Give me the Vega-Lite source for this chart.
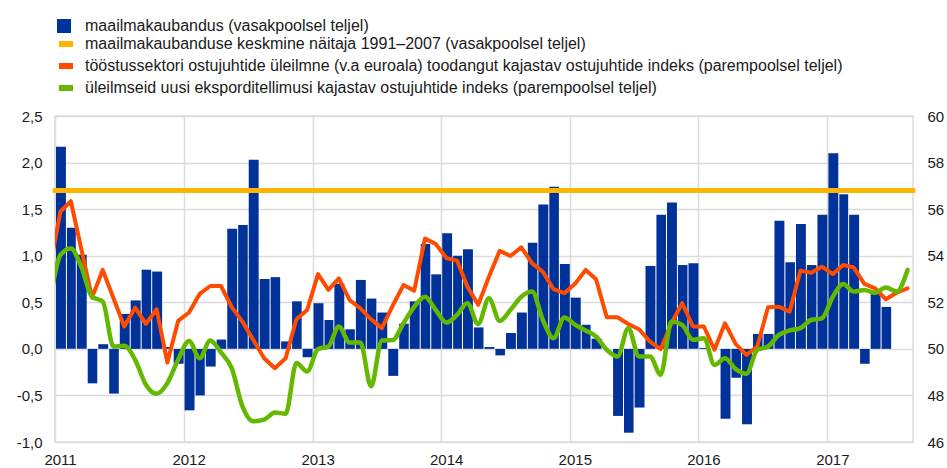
{
  "$schema": "https://vega.github.io/schema/vega-lite/v6.json",
  "width": 858,
  "height": 326,
  "autosize": {"type": "none"},
  "padding": {"left": 55, "top": 116, "right": 34, "bottom": 26},
  "background": "white",
  "config": {
    "font": "Liberation Sans",
    "view": {"stroke": "#dcdcdc", "strokeWidth": 1.5},
    "axis": {"labelFont": "Liberation Sans", "labelFontSize": 15, "labelColor": "#1a1a1a", "gridColor": "#dcdcdc", "gridWidth": 1.5, "ticks": false, "domain": false, "title": null},
    "legend": {"labelFont": "Liberation Sans", "labelFontSize": 16, "labelColor": "#1a1a1a", "labelLimit": 900}
  },
  "data": {
    "values": [
      {"date": "2010-12", "trade": null, "output": 53.4, "orders": 51.9},
      {"date": "2011-01", "trade": 2.17, "output": 55.9, "orders": 54.03},
      {"date": "2011-02", "trade": 1.30, "output": 56.34, "orders": 54.31},
      {"date": "2011-03", "trade": 1.01, "output": 54.3, "orders": 53.53},
      {"date": "2011-04", "trade": -0.37, "output": 52.2, "orders": 52.24},
      {"date": "2011-05", "trade": 0.05, "output": 53.39, "orders": 52.03},
      {"date": "2011-06", "trade": -0.48, "output": 52.17, "orders": 50.1},
      {"date": "2011-07", "trade": 0.375, "output": 50.96, "orders": 50.13},
      {"date": "2011-08", "trade": 0.52, "output": 51.77, "orders": 49.53},
      {"date": "2011-09", "trade": 0.85, "output": 51.07, "orders": 48.46},
      {"date": "2011-10", "trade": 0.83, "output": 51.7, "orders": 48.07},
      {"date": "2011-11", "trade": 0.02, "output": 49.41, "orders": 48.53},
      {"date": "2011-12", "trade": -0.16, "output": 51.2, "orders": 49.53},
      {"date": "2012-01", "trade": -0.66, "output": 51.56, "orders": 50.34},
      {"date": "2012-02", "trade": -0.50, "output": 52.36, "orders": 49.6},
      {"date": "2012-03", "trade": -0.19, "output": 52.7, "orders": 50.36},
      {"date": "2012-04", "trade": 0.10, "output": 52.7, "orders": 49.85},
      {"date": "2012-05", "trade": 1.29, "output": 51.79, "orders": 49.17},
      {"date": "2012-06", "trade": 1.33, "output": 51.17, "orders": 47.53},
      {"date": "2012-07", "trade": 2.03, "output": 50.39, "orders": 46.89},
      {"date": "2012-08", "trade": 0.75, "output": 49.6, "orders": 46.96},
      {"date": "2012-09", "trade": 0.77, "output": 49.17, "orders": 47.27},
      {"date": "2012-10", "trade": 0.08, "output": 49.6, "orders": 47.21},
      {"date": "2012-11", "trade": 0.51, "output": 51.27, "orders": 49.39},
      {"date": "2012-12", "trade": -0.09, "output": 51.67, "orders": 49.03},
      {"date": "2013-01", "trade": 0.49, "output": 53.21, "orders": 49.99},
      {"date": "2013-02", "trade": 0.31, "output": 52.53, "orders": 50.1},
      {"date": "2013-03", "trade": 0.70, "output": 53.03, "orders": 50.96},
      {"date": "2013-04", "trade": 0.21, "output": 52.1, "orders": 50.27},
      {"date": "2013-05", "trade": 0.74, "output": 51.74, "orders": 50.27},
      {"date": "2013-06", "trade": 0.54, "output": 51.27, "orders": 48.39},
      {"date": "2013-07", "trade": 0.39, "output": 50.89, "orders": 50.36},
      {"date": "2013-08", "trade": -0.29, "output": 51.86, "orders": 50.38},
      {"date": "2013-09", "trade": 0.27, "output": 52.74, "orders": 51.1},
      {"date": "2013-10", "trade": 0.51, "output": 52.5, "orders": 51.81},
      {"date": "2013-11", "trade": 1.125, "output": 54.74, "orders": 52.24},
      {"date": "2013-12", "trade": 0.80, "output": 54.5, "orders": 51.67},
      {"date": "2014-01", "trade": 1.24, "output": 53.89, "orders": 51.13},
      {"date": "2014-02", "trade": 1.00, "output": 53.79, "orders": 51.46},
      {"date": "2014-03", "trade": 1.07, "output": 52.67, "orders": 51.96},
      {"date": "2014-04", "trade": 0.23, "output": 51.89, "orders": 51.07},
      {"date": "2014-05", "trade": 0.02, "output": 53.1, "orders": 52.17},
      {"date": "2014-06", "trade": -0.07, "output": 54.21, "orders": 51.2},
      {"date": "2014-07", "trade": 0.17, "output": 53.99, "orders": 51.67},
      {"date": "2014-08", "trade": 0.39, "output": 54.36, "orders": 52.24},
      {"date": "2014-09", "trade": 1.14, "output": 53.67, "orders": 52.46},
      {"date": "2014-10", "trade": 1.55, "output": 53.31, "orders": 51.24},
      {"date": "2014-11", "trade": 1.74, "output": 52.56, "orders": 50.46},
      {"date": "2014-12", "trade": 0.91, "output": 52.39, "orders": 51.35},
      {"date": "2015-01", "trade": 0.55, "output": 52.81, "orders": 51.03},
      {"date": "2015-02", "trade": 0.26, "output": 53.39, "orders": 50.79},
      {"date": "2015-03", "trade": 0.11, "output": 52.99, "orders": 50.53},
      {"date": "2015-04", "trade": 0.0, "output": 51.36, "orders": 49.96},
      {"date": "2015-05", "trade": -0.72, "output": 51.36, "orders": 49.67},
      {"date": "2015-06", "trade": -0.90, "output": 51.07, "orders": 50.89},
      {"date": "2015-07", "trade": -0.63, "output": 50.84, "orders": 49.67},
      {"date": "2015-08", "trade": 0.89, "output": 50.31, "orders": 49.67},
      {"date": "2015-09", "trade": 1.44, "output": 49.99, "orders": 48.89},
      {"date": "2015-10", "trade": 1.57, "output": 51.1, "orders": 51.17},
      {"date": "2015-11", "trade": 0.90, "output": 51.96, "orders": 51.03},
      {"date": "2015-12", "trade": 0.92, "output": 50.96, "orders": 50.39},
      {"date": "2016-01", "trade": 0.01, "output": 50.96, "orders": 50.46},
      {"date": "2016-02", "trade": 0.0, "output": 49.96, "orders": 49.31},
      {"date": "2016-03", "trade": -0.75, "output": 51.1, "orders": 49.6},
      {"date": "2016-04", "trade": -0.31, "output": 50.2, "orders": 49.13},
      {"date": "2016-05", "trade": -0.81, "output": 49.74, "orders": 48.93},
      {"date": "2016-06", "trade": 0.16, "output": 50.1, "orders": 49.96},
      {"date": "2016-07", "trade": 0.16, "output": 51.79, "orders": 50.1},
      {"date": "2016-08", "trade": 1.375, "output": 51.81, "orders": 50.6},
      {"date": "2016-09", "trade": 0.93, "output": 51.6, "orders": 50.79},
      {"date": "2016-10", "trade": 1.34, "output": 53.36, "orders": 50.89},
      {"date": "2016-11", "trade": 0.90, "output": 53.27, "orders": 51.24},
      {"date": "2016-12", "trade": 1.44, "output": 53.53, "orders": 51.31},
      {"date": "2017-01", "trade": 2.10, "output": 53.21, "orders": 52.24},
      {"date": "2017-02", "trade": 1.66, "output": 53.6, "orders": 52.79},
      {"date": "2017-03", "trade": 1.44, "output": 53.5, "orders": 52.46},
      {"date": "2017-04", "trade": -0.16, "output": 52.79, "orders": 52.53},
      {"date": "2017-05", "trade": 0.62, "output": 52.6, "orders": 52.41},
      {"date": "2017-06", "trade": 0.45, "output": 52.13, "orders": 52.64},
      {"date": "2017-07", "trade": null, "output": 52.41, "orders": 52.46},
      {"date": "2017-08", "trade": null, "output": 52.6, "orders": 53.39}
    ],
    "format": {"parse": {"date": "date:'%Y-%m'"}}
  },
  "layer": [
    {
      "layer": [
        {
          "mark": {"type": "bar", "color": "#003299", "clip": true},
          "encoding": {
            "x": {
              "field": "date",
              "timeUnit": "yearmonth",
              "type": "temporal",
              "scale": {"domain": [{"year": 2011, "month": 1, "date": 1}, {"year": 2017, "month": 9, "date": 1}], "nice": false},
              "axis": {"format": "%Y", "formatType": "time", "tickCount": {"interval": "year", "step": 1}, "grid": true, "labelOffset": 5, "labelFlush": false, "labelPadding": 10, "labelOverlap": false}
            },
            "y": {
              "field": "trade", "type": "quantitative",
              "scale": {"domain": [-1, 2.5], "nice": false, "zero": false},
              "axis": {"orient": "left", "values": [-1, -0.5, 0, 0.5, 1, 1.5, 2, 2.5], "grid": true, "labelPadding": 13,
                       "labelExpr": "(datum.value < 0 ? '-' : '') + replace(format(abs(datum.value), '.1f'), '.', ',')"}
            },
            "fill": {
              "datum": "maailmakaubandus (vasakpoolsel teljel)",
              "scale": {"range": ["#003299"]},
              "legend": {"orient": "none", "legendX": 1, "legendY": -98, "title": null, "symbolType": "square", "symbolSize": 196, "symbolStrokeWidth": 0, "labelOffset": 13}
            }
          }
        },
        {
          "mark": {"type": "rule", "strokeWidth": 4, "strokeCap": "round"},
          "encoding": {
            "y": {"datum": 1.7},
            "stroke": {
              "datum": "maailmakaubanduse keskmine näitaja 1991–2007 (vasakpoolsel teljel)",
              "scale": {
                "domain": [
                  "maailmakaubanduse keskmine näitaja 1991–2007 (vasakpoolsel teljel)",
                  "tööstussektori ostujuhtide üleilmne (v.a euroala) toodangut kajastav ostujuhtide indeks (parempoolsel teljel)",
                  "üleilmseid uusi eksporditellimusi kajastav ostujuhtide indeks (parempoolsel teljel)"
                ],
                "range": ["#FFB400", "#FF4B00", "#65B800"]
              },
              "legend": {"orient": "none", "legendX": 1, "legendY": -82, "title": null, "symbolType": "stroke", "symbolSize": 196, "symbolStrokeWidth": 6, "labelOffset": 9, "rowPadding": -5}
            }
          }
        }
      ]
    },
    {
      "layer": [
        {
          "mark": {"type": "line", "strokeWidth": 4, "clip": true, "strokeJoin": "round", "strokeCap": "round"},
          "encoding": {
            "x": {"field": "date", "timeUnit": "yearmonth", "type": "temporal", "bandPosition": 0.5},
            "y": {
              "field": "output", "type": "quantitative",
              "scale": {"domain": [46, 60], "nice": false, "zero": false},
              "axis": {"orient": "right", "values": [46, 48, 50, 52, 54, 56, 58, 60], "grid": false, "labelPadding": 14}
            },
            "stroke": {"datum": "tööstussektori ostujuhtide üleilmne (v.a euroala) toodangut kajastav ostujuhtide indeks (parempoolsel teljel)"}
          }
        },
        {
          "mark": {"type": "line", "strokeWidth": 4.5, "clip": true, "interpolate": "monotone", "strokeCap": "round"},
          "encoding": {
            "x": {"field": "date", "timeUnit": "yearmonth", "type": "temporal", "bandPosition": 0.5},
            "y": {"field": "orders", "type": "quantitative"},
            "stroke": {"datum": "üleilmseid uusi eksporditellimusi kajastav ostujuhtide indeks (parempoolsel teljel)"}
          }
        }
      ]
    }
  ],
  "resolve": {"scale": {"y": "independent"}}
}
